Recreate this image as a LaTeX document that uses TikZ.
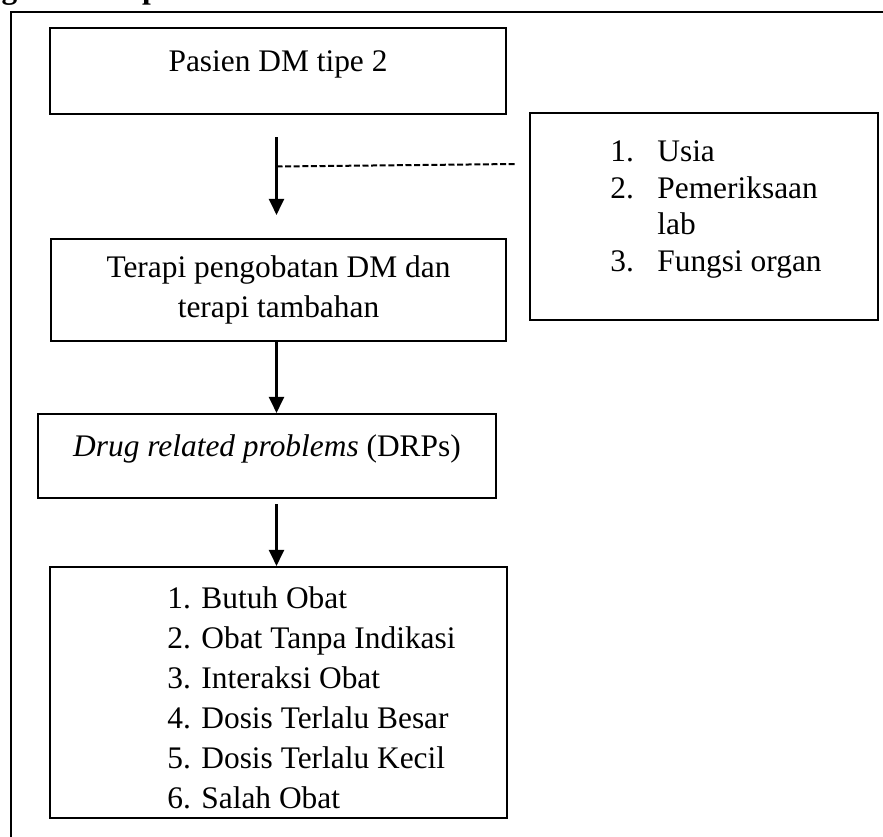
\documentclass[tikz,border=0pt]{standalone}
\usepackage{fontspec}
\setmainfont{Liberation Serif}
\usetikzlibrary{arrows.meta}
\tikzset{
  kotak/.style={draw, line width=1.05pt, inner sep=0pt},
  isi/.style={inner sep=0pt, anchor=base west},
  panah/.style={line width=1.05pt, -{Triangle[width=7.5pt,length=8pt]}},
}
\begin{document}
\begin{tikzpicture}[x=0.5pt, y=-0.5pt, font=\fontsize{15.7}{20}\selectfont]
\clip (0,0) rectangle (883,836);
\useasboundingbox (0,0) rectangle (883,836);
\node[anchor=base east, inner sep=0pt, font=\bfseries\fontsize{15.7}{20}\selectfont] (judul) at (160,-2) {Kerangka Konsep};
\draw[line width=1.05pt] (11,850) |- (900,12);
\node[kotak, minimum width=228pt, minimum height=43pt, text height=8pt, text depth=8pt] (pasien) at (278,71) {Pasien DM tipe 2};
\node[kotak, minimum width=227.5pt, minimum height=51pt, align=center] (terapi) at (278.5,290) {Terapi pengobatan DM dan\\ terapi tambahan};
\node[kotak, minimum width=229pt, minimum height=42pt, text height=8pt, text depth=8pt] (drp) at (267,456) {\textit{Drug related problems} (DRPs)};
\node[kotak, minimum width=228.5pt, minimum height=125.5pt] (masalah) at (278.5,692.5) {};
\node[isi] (daftar) at (167,608) {\begin{tabular}[t]{@{}l@{}}
1. Butuh Obat\\ 2. Obat Tanpa Indikasi\\ 3. Interaksi Obat\\
4. Dosis Terlalu Besar\\ 5. Dosis Terlalu Kecil\\ 6. Salah Obat\end{tabular}};
\node[kotak, minimum width=174pt, minimum height=103.5pt] (faktor) at (704,216.5) {};
\node[isi, font=\fontsize{15.7}{18.25}\selectfont] (faktorlist) at (610,161.5) {\begin{tabular}[t]{@{}p{23.5pt}@{}l@{}}
1. & Usia\\ 2. & Pemeriksaan\\ & lab\\ 3. & Fungsi organ\end{tabular}};
\coordinate (poros) at (276.5,0);
\coordinate (cabang) at (276.5,166.5);
\coordinate (ujung) at (516,164);
\draw[panah, shorten <=11pt, shorten >=11.5pt] (poros |- pasien.south) -- (poros |- terapi.north);
\draw[line width=1pt, dash pattern=on 3pt off 1.3pt] (cabang) -- (ujung);
\draw[panah] (poros |- terapi.south) -- (poros |- drp.north);
\draw[panah, shorten <=2.5pt] (poros |- drp.south) -- (poros |- masalah.north);
\end{tikzpicture}
\end{document}
